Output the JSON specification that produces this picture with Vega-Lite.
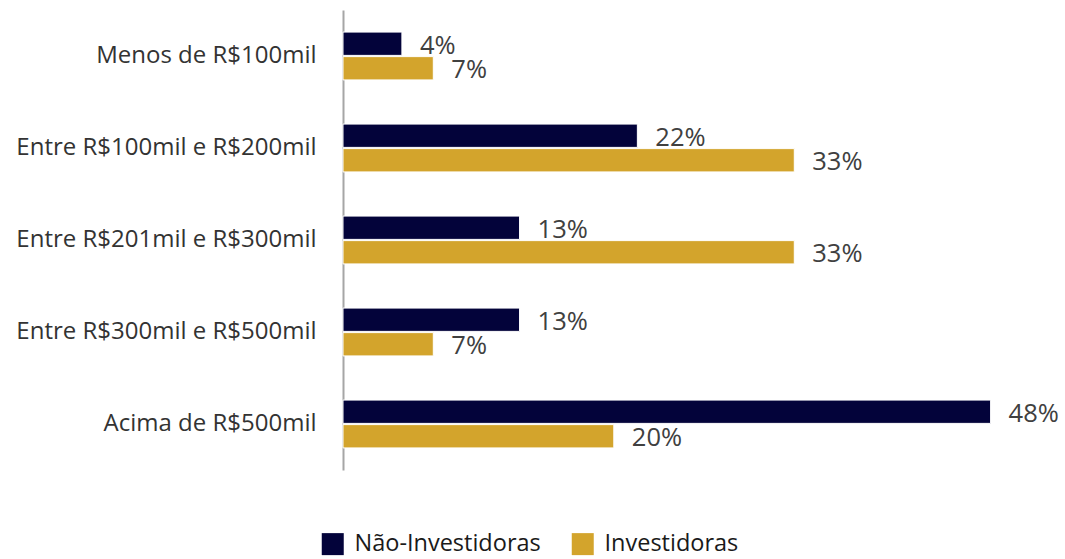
{
  "$schema": "https://vega.github.io/schema/vega-lite/v6.json",
  "width": 677,
  "height": 460,
  "autosize": {"type": "none"},
  "padding": {"left": 343, "top": 10, "right": 45, "bottom": 89},
  "background": "white",
  "data": {
    "values": [
      {"faixa": "Menos de R$100mil", "grupo": "Não-Investidoras", "valor": 0.0435},
      {"faixa": "Menos de R$100mil", "grupo": "Investidoras", "valor": 0.0667},
      {"faixa": "Entre R$100mil e R$200mil", "grupo": "Não-Investidoras", "valor": 0.2174},
      {"faixa": "Entre R$100mil e R$200mil", "grupo": "Investidoras", "valor": 0.3333},
      {"faixa": "Entre R$201mil e R$300mil", "grupo": "Não-Investidoras", "valor": 0.1304},
      {"faixa": "Entre R$201mil e R$300mil", "grupo": "Investidoras", "valor": 0.3333},
      {"faixa": "Entre R$300mil e R$500mil", "grupo": "Não-Investidoras", "valor": 0.1304},
      {"faixa": "Entre R$300mil e R$500mil", "grupo": "Investidoras", "valor": 0.0667},
      {"faixa": "Acima de R$500mil", "grupo": "Não-Investidoras", "valor": 0.4783},
      {"faixa": "Acima de R$500mil", "grupo": "Investidoras", "valor": 0.2}
    ]
  },
  "encoding": {
    "y": {
      "field": "faixa",
      "type": "nominal",
      "sort": null,
      "scale": {"paddingInner": 0.48, "paddingOuter": 0.24},
      "axis": {
        "title": null,
        "ticks": false,
        "domainColor": "#a6a6a6",
        "domainWidth": 2,
        "labelFont": "Open Sans",
        "labelFontSize": 24,
        "labelColor": "#333333",
        "labelPadding": 27,
        "labelLimit": 0
      }
    },
    "yOffset": {
      "field": "grupo",
      "type": "nominal",
      "sort": ["Não-Investidoras", "Investidoras"],
      "scale": {"paddingInner": 0.05}
    },
    "x": {
      "field": "valor",
      "type": "quantitative",
      "scale": {"domain": [0, 0.5]},
      "axis": null
    }
  },
  "layer": [
    {
      "mark": {"type": "bar", "stroke": "#ffffff", "strokeWidth": 1},
      "encoding": {
        "color": {
          "field": "grupo",
          "type": "nominal",
          "scale": {"domain": ["Não-Investidoras", "Investidoras"], "range": ["#03033a", "#d3a42c"]},
          "legend": {
            "title": null,
            "orient": "none",
            "direction": "horizontal",
            "legendX": -22,
            "legendY": 522,
            "symbolType": "square",
            "symbolSize": 484,
            "symbolStrokeWidth": 0,
            "labelFont": "Open Sans",
            "labelFontSize": 23.5,
            "labelColor": "#1a1a1a",
            "labelOffset": 10,
            "labelLimit": 0,
            "columnPadding": 30
          }
        }
      }
    },
    {
      "mark": {"type": "text", "align": "left", "baseline": "middle", "dx": 18, "dy": 2, "font": "Open Sans", "fontSize": 25.5, "color": "#404040"},
      "encoding": {
        "text": {"field": "valor", "type": "quantitative", "format": ".0%"}
      }
    }
  ],
  "config": {"view": {"stroke": null}}
}
